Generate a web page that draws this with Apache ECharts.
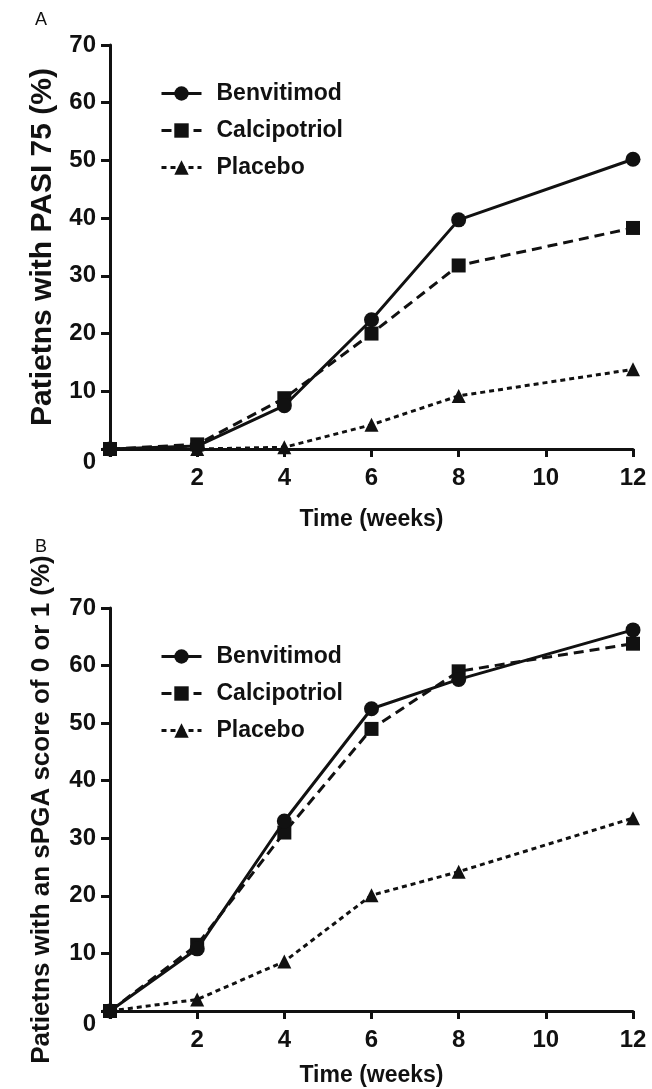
<!DOCTYPE html>
<html>
<head>
<meta charset="utf-8">
<script src="https://cdn.jsdelivr.net/npm/echarts@6/dist/echarts.min.js"></script>
<style>
html,body{margin:0;padding:0;background:#fff;}
#chart{width:652px;height:1089px;}
</style>
</head>
<body>
<div id="chart"></div>
<script>
// ---- data ----
const weeks = [0, 2, 4, 6, 8, 12];
const seriesNames = ['Benvitimod', 'Calcipotriol', 'Placebo'];
// Panel A: PASI 75 (%)
const pasiBenvitimod   = [0, 0.5, 7.5, 22.4, 39.7, 50.2];
const pasiCalcipotriol = [0, 0.8, 8.8, 20.0, 31.8, 38.3];
const pasiPlacebo      = [0, 0.0, 0.3, 4.2, 9.2, 13.8];
// Panel B: sPGA 0 or 1 (%)
const pgaBenvitimod   = [0, 10.8, 33.0, 52.5, 57.6, 66.2];
const pgaCalcipotriol = [0, 11.5, 31.0, 49.0, 59.0, 63.8];
const pgaPlacebo      = [0, 2.0, 8.6, 20.1, 24.2, 33.5];
// axis labels
const yTitleA = 'Patietns with PASI 75 (%)';
const yTitleB = 'Patietns with an sPGA score of 0 or 1 (%)';
const xTitle = 'Time (weeks)';
const panelLabels = ['A', 'B'];

const FONT = '"Liberation Sans", Arial, sans-serif';
const INK = '#111';

function pairs(xs, ys) { return xs.map((x, i) => [x, ys[i]]); }

const styles = [
  { symbol: 'circle', symbolSize: 15, type: 'solid' },
  { symbol: 'rect', symbolSize: 14, type: [10, 6] },
  { symbol: 'triangle', symbolSize: 14, type: [5, 4] }
];

function makeSeries(idx, dataSets) {
  return dataSets.map((d, i) => ({
    name: seriesNames[i],
    type: 'line',
    xAxisIndex: idx,
    yAxisIndex: idx,
    data: pairs(weeks, d),
    symbol: styles[i].symbol,
    symbolSize: styles[i].symbolSize,
    showAllSymbol: true,
    itemStyle: { color: INK },
    lineStyle: { color: INK, width: 3, type: styles[i].type },
    z: 3 - i,
    animation: false
  }));
}

function xAxisCfg(gi, gap) {
  return {
    type: 'value', gridIndex: gi, min: 0, max: 12, interval: 2,
    name: xTitle, nameLocation: 'middle', nameGap: gap,
    nameTextStyle: { fontFamily: FONT, fontWeight: 'bold', fontSize: 23, color: INK },
    axisLine: { show: true, onZero: false, lineStyle: { color: INK, width: 3 } },
    axisTick: { show: true, length: 8, lineStyle: { color: INK, width: 3 } },
    axisLabel: {
      margin: 17, fontFamily: FONT, fontWeight: 'bold', fontSize: 24, color: INK,
      formatter: v => (v === 0 ? '' : String(v))
    },
    splitLine: { show: false }
  };
}

function yAxisCfg(gi, title, gap, size) {
  return {
    type: 'value', gridIndex: gi, min: 0, max: 70, interval: 10,
    name: title, nameLocation: 'middle', nameGap: gap, nameRotate: 90,
    nameTextStyle: { fontFamily: FONT, fontWeight: 'bold', fontSize: size, color: INK },
    axisLine: { show: true, onZero: false, lineStyle: { color: INK, width: 3 } },
    axisTick: { show: true, length: 9, lineStyle: { color: INK, width: 3 } },
    axisLabel: {
      margin: 14, fontFamily: FONT, fontWeight: 'bold', fontSize: 24, color: INK,
      formatter: v => (v === 0 ? '{z|0}' : String(v)),
      rich: { z: { fontFamily: FONT, fontWeight: 'bold', fontSize: 24, color: INK, padding: [26, 0, 0, 0] } }
    },
    splitLine: { show: false }
  };
}

function legendCfg(top) {
  return {
    orient: 'vertical', left: 155, top: top, itemWidth: 40, itemHeight: 18, itemGap: 14,
    data: seriesNames,
    lineStyle: { width: 3 },
    textStyle: { fontFamily: FONT, fontWeight: 'bold', fontSize: 23, color: INK, padding: [0, 0, 0, 10] },
    selectedMode: false
  };
}

const chart = echarts.init(document.getElementById('chart'), null, { renderer: 'canvas' });
chart.setOption({
  backgroundColor: '#fff',
  animation: false,
  title: [
    { text: panelLabels[0], left: 30, top: 6, textStyle: { fontFamily: FONT, fontWeight: 'normal', fontSize: 18, color: INK } },
    { text: panelLabels[1], left: 30, top: 533, textStyle: { fontFamily: FONT, fontWeight: 'normal', fontSize: 18, color: INK } }
  ],
  legend: [legendCfg(77), legendCfg(640)],
  grid: [
    { left: 110, top: 45, width: 523, height: 404 },
    { left: 110, top: 608, width: 523, height: 403 }
  ],
  xAxis: [xAxisCfg(0, 59), xAxisCfg(1, 53)],
  yAxis: [yAxisCfg(0, yTitleA, 52, 30), yAxisCfg(1, yTitleB, 55, 26)],
  series: [
    ...makeSeries(0, [pasiBenvitimod, pasiCalcipotriol, pasiPlacebo]),
    ...makeSeries(1, [pgaBenvitimod, pgaCalcipotriol, pgaPlacebo])
  ]
});
</script>
</body>
</html>
